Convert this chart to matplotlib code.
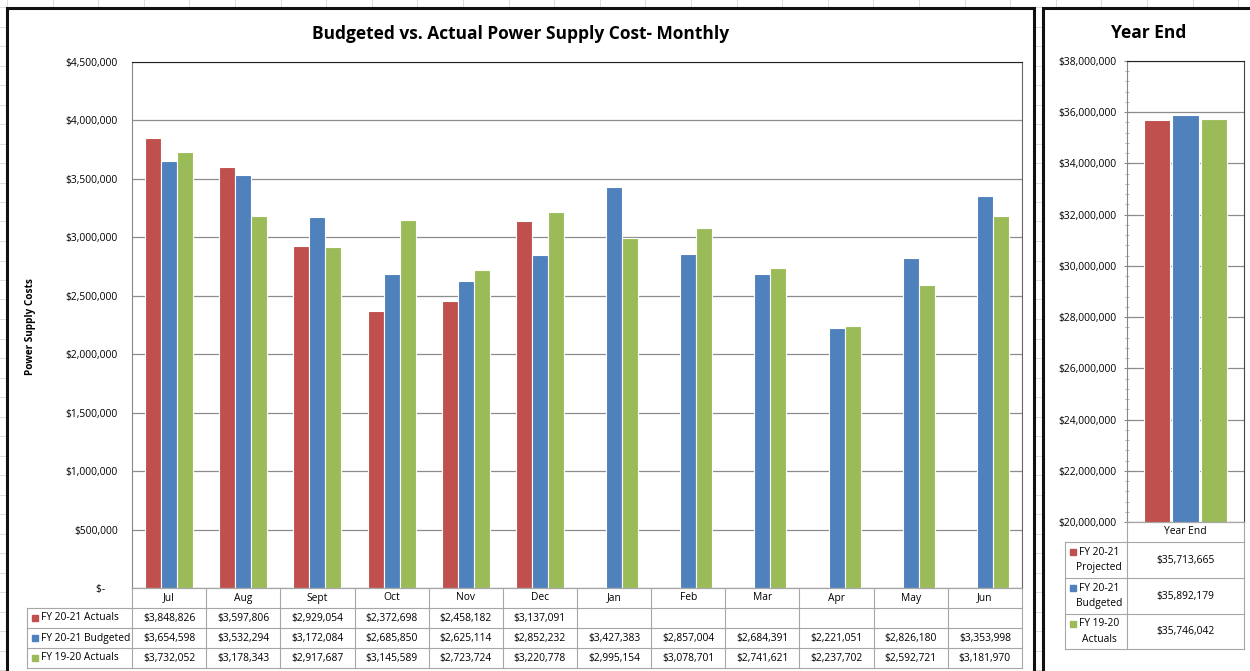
import numpy as np
import matplotlib
matplotlib.use("Agg")
from matplotlib import pyplot as plt
from matplotlib.lines import Line2D
from matplotlib.patches import Rectangle
from matplotlib.ticker import FuncFormatter, MultipleLocator

months = ['Jul', 'Aug', 'Sept', 'Oct', 'Nov', 'Dec', 'Jan', 'Feb', 'Mar', 'Apr', 'May', 'Jun']
actuals_2021 = [3848826, 3597806, 2929054, 2372698, 2458182, 3137091]
budgeted_2021 = [3654598, 3532294, 3172084, 2685850, 2625114, 2852232,
                 3427383, 2857004, 2684391, 2221051, 2826180, 3353998]
actuals_1920 = [3732052, 3178343, 2917687, 3145589, 2723724, 3220778,
                2995154, 3078701, 2741621, 2237702, 2592721, 3181970]
series_names = ['FY 20-21 Actuals', 'FY 20-21 Budgeted', 'FY 19-20 Actuals']

year_end_names = ['FY 20-21\nProjected', 'FY 20-21\nBudgeted', 'FY 19-20\nActuals']
year_end_values = [35713665, 35892179, 35746042]

RED, BLUE, GREEN = '#C0504D', '#4F81BD', '#9BBB59'
colors = [RED, BLUE, GREEN]

plt.rcParams['font.family'] = ['Open Sans', 'DejaVu Sans']
FS = 7.4
W, H = 1250, 671


def fx(x):
    return x / W


def fy(y):
    return 1 - y / H


def money(v, pos=None):
    if v == 0:
        return '$-     '
    return f'${v:,.0f}'


def hline(fig, x0, x1, y, color='#a6a6a6', lw=0.8, z=2):
    fig.add_artist(Line2D([fx(x0), fx(x1)], [fy(y), fy(y)], color=color, lw=lw,
                          transform=fig.transFigure, zorder=z))


def vline(fig, x, y0, y1, color='#a6a6a6', lw=0.8, z=2):
    fig.add_artist(Line2D([fx(x), fx(x)], [fy(y0), fy(y1)], color=color, lw=lw,
                          transform=fig.transFigure, zorder=z))


def legend_square(fig, x, y, color):
    fig.add_artist(Rectangle((fx(x), fy(y + 3)), 6 / W, 6 / H, color=color,
                             transform=fig.transFigure, zorder=2))


def panel(fig, x0, y0, x1, y1):
    fig.add_artist(Rectangle((fx(x0), fy(y1)), (x1 - x0) / W, (y1 - y0) / H,
                             fc='white', ec='none', transform=fig.transFigure, zorder=-1))
    fig.add_artist(Rectangle((fx(x0), fy(y1)), (x1 - x0) / W, (y1 - y0) / H, fill=False,
                             ec='#111111', lw=2.2, transform=fig.transFigure, zorder=3))


fig = plt.figure(figsize=(12.5, 6.71), dpi=100)

# faint spreadsheet cells behind the charts
for gy in np.arange(7, H, 19.5):
    hline(fig, 0, W, gy, color='#dcdcdc', lw=0.7, z=-2)
for gx in np.arange(7, W, 45.6):
    vline(fig, gx, 0, H, color='#dcdcdc', lw=0.7, z=-2)

panel(fig, 7, 8, 1034, 690)
panel(fig, 1043, 8, 1270, 690)

# ---------------- monthly chart ----------------
L, R, T, B = 132, 1022, 62, 588
ax = fig.add_axes([fx(L), fy(B), (R - L) / W, (B - T) / H])
x = np.arange(len(months))
bw = 0.215
ax.bar(x[:len(actuals_2021)] - bw, actuals_2021, bw, color=RED, edgecolor='white', lw=0.8)
ax.bar(x, budgeted_2021, bw, color=BLUE, edgecolor='white', lw=0.8)
ax.bar(x + bw, actuals_1920, bw, color=GREEN, edgecolor='white', lw=0.8)
ax.set_xlim(-0.5, len(months) - 0.5)
ax.set_ylim(0, 4500000)
ax.yaxis.set_major_locator(MultipleLocator(500000))
ax.yaxis.set_major_formatter(FuncFormatter(money))
ax.set_xticks([])
ax.tick_params(axis='y', length=0, labelsize=FS, pad=10)
ax.yaxis.grid(True, color='#8c8c8c', lw=0.9)
ax.set_axisbelow(True)
ax.spines['top'].set_color('#222222')
ax.spines['right'].set_color('#666666')
ax.spines['left'].set_color('#888888')
ax.spines['bottom'].set_color('#888888')

fig.text(fx(521), fy(34), 'Budgeted vs. Actual Power Supply Cost- Monthly',
         ha='center', va='center', fontsize=12.5, fontweight='bold')
fig.text(fx(31), fy(327), 'Power Supply Costs', rotation=90, ha='center', va='center',
         fontsize=7.2, fontweight='bold')

# data table under the monthly chart
col_w = (R - L) / len(months)
rows = [588, 608, 628, 648, 668]
TL = 27
for i in range(len(months) + 1):
    vline(fig, L + i * col_w, rows[0], rows[-1])
vline(fig, TL, rows[1], rows[-1])
hline(fig, L, R, rows[0])
for y in rows[1:]:
    hline(fig, TL, R, y)
for i, m in enumerate(months):
    fig.text(fx(L + (i + 0.5) * col_w), fy((rows[0] + rows[1]) / 2), m,
             ha='center', va='center', fontsize=FS)
table_data = [actuals_2021, budgeted_2021, actuals_1920]
for r, (name, vals, c) in enumerate(zip(series_names, table_data, colors)):
    ymid = (rows[r + 1] + rows[r + 2]) / 2
    legend_square(fig, TL + 5, ymid, c)
    fig.text(fx(TL + 14), fy(ymid), name, ha='left', va='center', fontsize=FS)
    for i, v in enumerate(vals):
        fig.text(fx(L + (i + 0.5) * col_w), fy(ymid), money(v),
                 ha='center', va='center', fontsize=FS)

# ---------------- year end chart ----------------
L2, R2, T2, B2 = 1127, 1244, 61, 522
ax2 = fig.add_axes([fx(L2), fy(B2), (R2 - L2) / W, (B2 - T2) / H])
offs = [-0.245, 0, 0.245]
for o, v, c in zip(offs, year_end_values, colors):
    ax2.bar(o, v, 0.225, color=c, edgecolor='white', lw=0.8)
ax2.set_xlim(-0.5, 0.5)
ax2.set_ylim(20000000, 38000000)
ax2.yaxis.set_major_locator(MultipleLocator(2000000))
ax2.yaxis.set_minor_locator(MultipleLocator(400000))
ax2.yaxis.set_major_formatter(FuncFormatter(money))
ax2.set_xticks([])
ax2.tick_params(axis='y', which='major', direction='inout', length=5, color='#888888',
                labelsize=FS, pad=5)
ax2.tick_params(axis='y', which='minor', direction='inout', length=3, color='#aaaaaa')
ax2.yaxis.grid(True, color='#8c8c8c', lw=0.9)
ax2.set_axisbelow(True)
ax2.spines['top'].set_color('#222222')
ax2.spines['right'].set_color('#444444')
ax2.spines['left'].set_color('#888888')
ax2.spines['bottom'].set_color('#888888')

fig.text(fx(1149), fy(33), 'Year End', ha='center', va='center',
         fontsize=12.5, fontweight='bold')

rows2 = [522, 542, 578, 614, 649]
TL2 = 1065
vline(fig, L2, rows2[0], rows2[-1])
vline(fig, R2, rows2[0], rows2[-1])
vline(fig, TL2, rows2[1], rows2[-1])
hline(fig, L2, R2, rows2[0])
for y in rows2[1:]:
    hline(fig, TL2, R2, y)
fig.text(fx((L2 + R2) / 2), fy((rows2[0] + rows2[1]) / 2), 'Year End',
         ha='center', va='center', fontsize=FS)
for r, (name, v, c) in enumerate(zip(year_end_names, year_end_values, colors)):
    ymid = (rows2[r + 1] + rows2[r + 2]) / 2
    legend_square(fig, TL2 + 5, ymid - 8, c)
    fig.text(fx((TL2 + L2) / 2 + 3), fy(ymid), name, ha='center', va='center',
             fontsize=FS, linespacing=1.6)
    fig.text(fx((L2 + R2) / 2), fy(ymid), money(v), ha='center', va='center', fontsize=FS)

fig.savefig('out.png', dpi=100, facecolor='white')
